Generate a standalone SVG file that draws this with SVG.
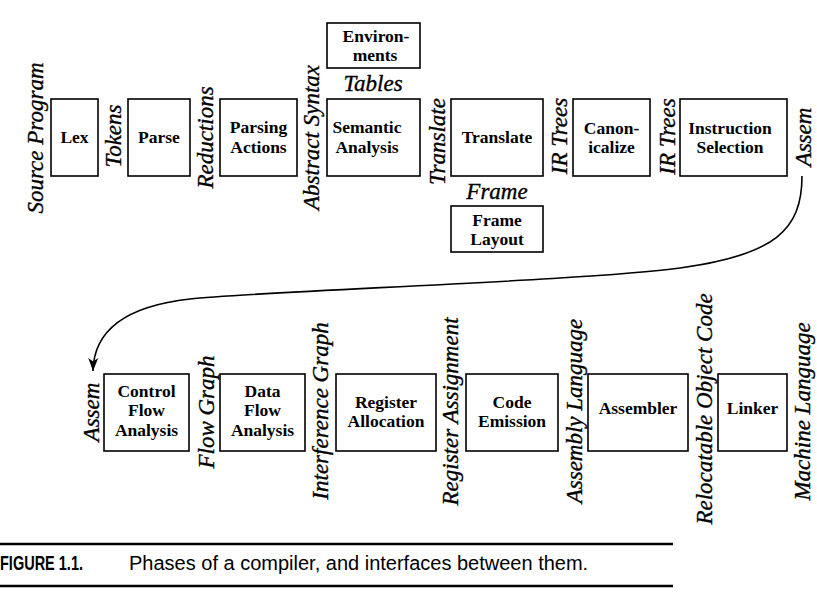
<svg xmlns="http://www.w3.org/2000/svg" width="817" height="595" viewBox="0 0 817 595">
<style>
.box{fill:none;stroke:#000;stroke-width:1.6}
.lbl{font-family:"Liberation Serif",serif;font-weight:bold;font-size:17.5px;text-anchor:middle;fill:#000}
.it{font-family:"Liberation Serif",serif;font-style:italic;font-size:23px;text-anchor:middle;fill:#000;stroke:#000;stroke-width:0.35}
.conn{fill:none;stroke:#000;stroke-width:1.6}
.rule{stroke:#000;stroke-width:2.5}
.cap{font-family:"Liberation Sans",sans-serif;font-size:20px;fill:#000}
</style>
<defs>
<marker id="arrow" markerUnits="userSpaceOnUse" markerWidth="16" markerHeight="14" viewBox="-14 -7 16 14" refX="0" refY="0" orient="auto">
<path d="M0,0 L-13,-5 L-9.5,0 L-13,5 Z" fill="#000"/>
</marker>
</defs>
<rect x="0" y="0" width="817" height="595" fill="#fff"/>

<g id="labels">
<text class="it" transform="translate(43,138) rotate(-90)">Source Program</text>
<text class="it" transform="translate(121,136) rotate(-90)">Tokens</text>
<text class="it" transform="translate(213,137.5) rotate(-90)">Reductions</text>
<text class="it" transform="translate(319,137.5) rotate(-90)">Abstract Syntax</text>
<text class="it" x="373" y="91">Tables</text>
<text class="it" transform="translate(445,141.5) rotate(-90)">Translate</text>
<text class="it" x="497" y="199">Frame</text>
<text class="it" transform="translate(567,136) rotate(-90)">IR Trees</text>
<text class="it" transform="translate(675,136.5) rotate(-90)">IR Trees</text>
<text class="it" transform="translate(811,137) rotate(-90)">Assem</text>
<text class="it" transform="translate(99,412) rotate(-90)">Assem</text>
<text class="it" transform="translate(214,412) rotate(-90)">Flow Graph</text>
<text class="it" transform="translate(328,411) rotate(-90)">Interference Graph</text>
<text class="it" transform="translate(458,411.5) rotate(-90)">Register Assignment</text>
<text class="it" transform="translate(582,411) rotate(-90)">Assembly Language</text>
<text class="it" transform="translate(712,409) rotate(-90)">Relocatable Object Code</text>
<text class="it" transform="translate(810,411.5) rotate(-90)">Machine Language</text>
</g>

<g id="lex"><rect class="box" x="51" y="99" width="47" height="77"/><text class="lbl" x="74.5" y="143">Lex</text></g>
<g id="parse"><rect class="box" x="128" y="99" width="62" height="77"/><text class="lbl" x="159" y="143">Parse</text></g>
<g id="parsing-actions"><rect class="box" x="220" y="99" width="77" height="77"/><text class="lbl" x="258.5" y="133">Parsing</text><text class="lbl" x="258.5" y="153">Actions</text></g>
<g id="environments"><rect class="box" x="327" y="23" width="93" height="45"/><text class="lbl" x="376" y="42">Environ-</text><text class="lbl" x="375" y="61">ments</text></g>
<g id="semantic-analysis"><rect class="box" x="327" y="99" width="93" height="77"/><text class="lbl" x="367" y="133">Semantic</text><text class="lbl" x="367" y="153">Analysis</text></g>
<g id="translate"><rect class="box" x="451" y="99" width="92" height="77"/><text class="lbl" x="497" y="143">Translate</text></g>
<g id="frame-layout"><rect class="box" x="451" y="206" width="92" height="46"/><text class="lbl" x="497" y="226">Frame</text><text class="lbl" x="497" y="245">Layout</text></g>
<g id="canonicalize"><rect class="box" x="573" y="99" width="77" height="77"/><text class="lbl" x="611.5" y="134">Canon-</text><text class="lbl" x="611.5" y="153">icalize</text></g>
<g id="instruction-selection"><rect class="box" x="680" y="99" width="107" height="77"/><text class="lbl" x="730" y="134">Instruction</text><text class="lbl" x="730" y="153">Selection</text></g>

<g id="control-flow-analysis"><rect class="box" x="104" y="374" width="85" height="77"/><text class="lbl" x="146.5" y="397">Control</text><text class="lbl" x="146.5" y="416">Flow</text><text class="lbl" x="146.5" y="436">Analysis</text></g>
<g id="data-flow-analysis"><rect class="box" x="220" y="374" width="85" height="77"/><text class="lbl" x="262.5" y="397">Data</text><text class="lbl" x="262.5" y="416">Flow</text><text class="lbl" x="262.5" y="436">Analysis</text></g>
<g id="register-allocation"><rect class="box" x="336" y="374" width="100" height="77"/><text class="lbl" x="386" y="408">Register</text><text class="lbl" x="386" y="427">Allocation</text></g>
<g id="code-emission"><rect class="box" x="466" y="374" width="92" height="77"/><text class="lbl" x="512" y="408">Code</text><text class="lbl" x="512" y="427">Emission</text></g>
<g id="assembler"><rect class="box" x="588" y="374" width="100" height="77"/><text class="lbl" x="638" y="414">Assembler</text></g>
<g id="linker"><rect class="box" x="718" y="374" width="69" height="77"/><text class="lbl" x="752.5" y="414">Linker</text></g>

<g id="connectors">
<path class="conn" d="M802,176 C802,230 775,255 680,268 C585,281 260,291 190,299 C145,304 94,320 93,371" marker-end="url(#arrow)"/>
</g>

<g id="caption">
<line class="rule" x1="0" y1="544" x2="673" y2="544"/>
<text class="cap" x="0" y="570" font-weight="bold" textLength="83" lengthAdjust="spacingAndGlyphs">FIGURE 1.1.</text>
<text class="cap" x="129" y="570">Phases of a compiler, and interfaces between them.</text>
<line class="rule" x1="0" y1="586" x2="673" y2="586"/>
</g>
</svg>
